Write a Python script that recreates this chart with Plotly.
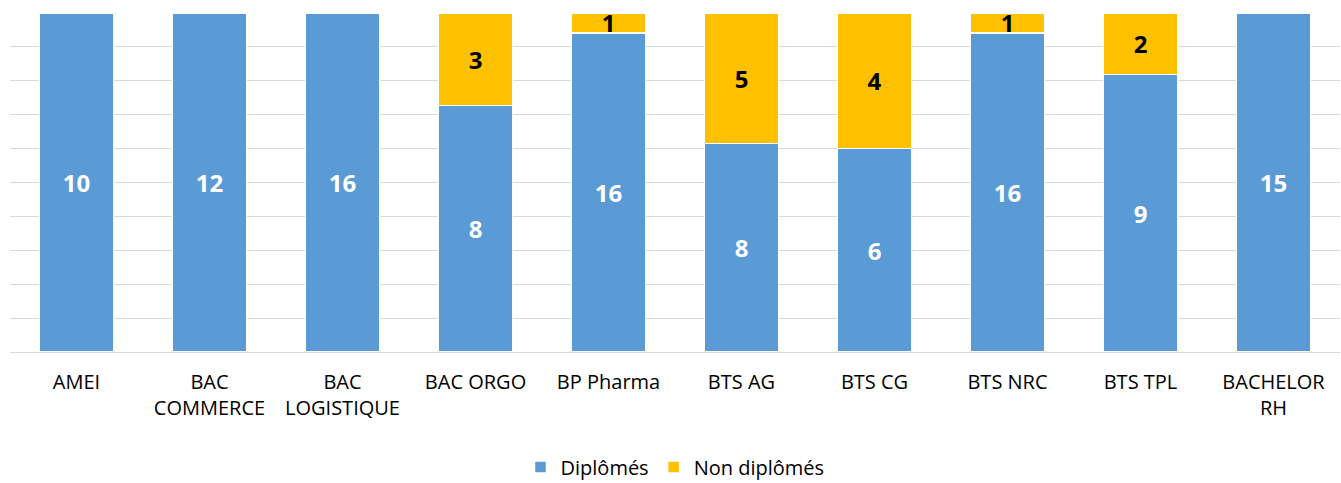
import plotly.graph_objects as go

categories = ["AMEI", "BAC<br>COMMERCE", "BAC<br>LOGISTIQUE", "BAC ORGO", "BP Pharma",
              "BTS AG", "BTS CG", "BTS NRC", "BTS TPL", "BACHELOR<br>RH"]
diplomes = [10, 12, 16, 8, 16, 8, 6, 16, 9, 15]
non_diplomes = [0, 0, 0, 3, 1, 5, 4, 1, 2, 0]

FONT = "'Open Sans', sans-serif"

fig = go.Figure()
fig.add_trace(go.Bar(
    name="Diplômés", x=categories, y=diplomes,
    marker=dict(color="#5b9bd5", line=dict(color="white", width=1.5)),
    text=[str(v) if v else "" for v in diplomes],
    textposition="inside", insidetextanchor="middle", textangle=0,
    textfont=dict(color="white", size=24, family=FONT, weight="bold"),
    hoverinfo="skip",
))
fig.add_trace(go.Bar(
    name="Non diplômés", x=categories, y=non_diplomes,
    marker=dict(color="#ffc000", line=dict(color="white", width=1.5)),
    text=[str(v) if v else "" for v in non_diplomes],
    textposition="inside", insidetextanchor="middle", textangle=0,
    textfont=dict(color="black", size=24, family=FONT, weight="bold"),
    hoverinfo="skip",
))

fig.update_layout(
    barmode="stack", barnorm="percent", bargap=0.44,
    width=1341, height=483,
    margin=dict(l=10, r=1, t=13, b=131, autoexpand=False),
    paper_bgcolor="white", plot_bgcolor="white",
    font=dict(family=FONT, size=20, color="#000000"),
    uniformtext=dict(minsize=24, mode="show"),
    showlegend=True,
    legend=dict(orientation="h", x=0.5, xanchor="center", y=0.033, yanchor="middle",
                yref="container",
                font=dict(size=20, family=FONT), traceorder="normal"),
    xaxis=dict(showgrid=False, showline=True, linecolor="#d9d9d9", linewidth=1,
               ticks="", tickfont=dict(size=20, family=FONT), automargin=False,
               ticklabelstandoff=12),
    yaxis=dict(range=[0, 100], dtick=10, showgrid=True, gridcolor="#d9d9d9", gridwidth=1,
               showticklabels=False, zeroline=False, showline=False, ticks="",
               automargin=False),
)

fig.write_html("out.html", config={"displayModeBar": False},
               post_script="document.body.style.margin='0';document.body.style.overflow='hidden';")
